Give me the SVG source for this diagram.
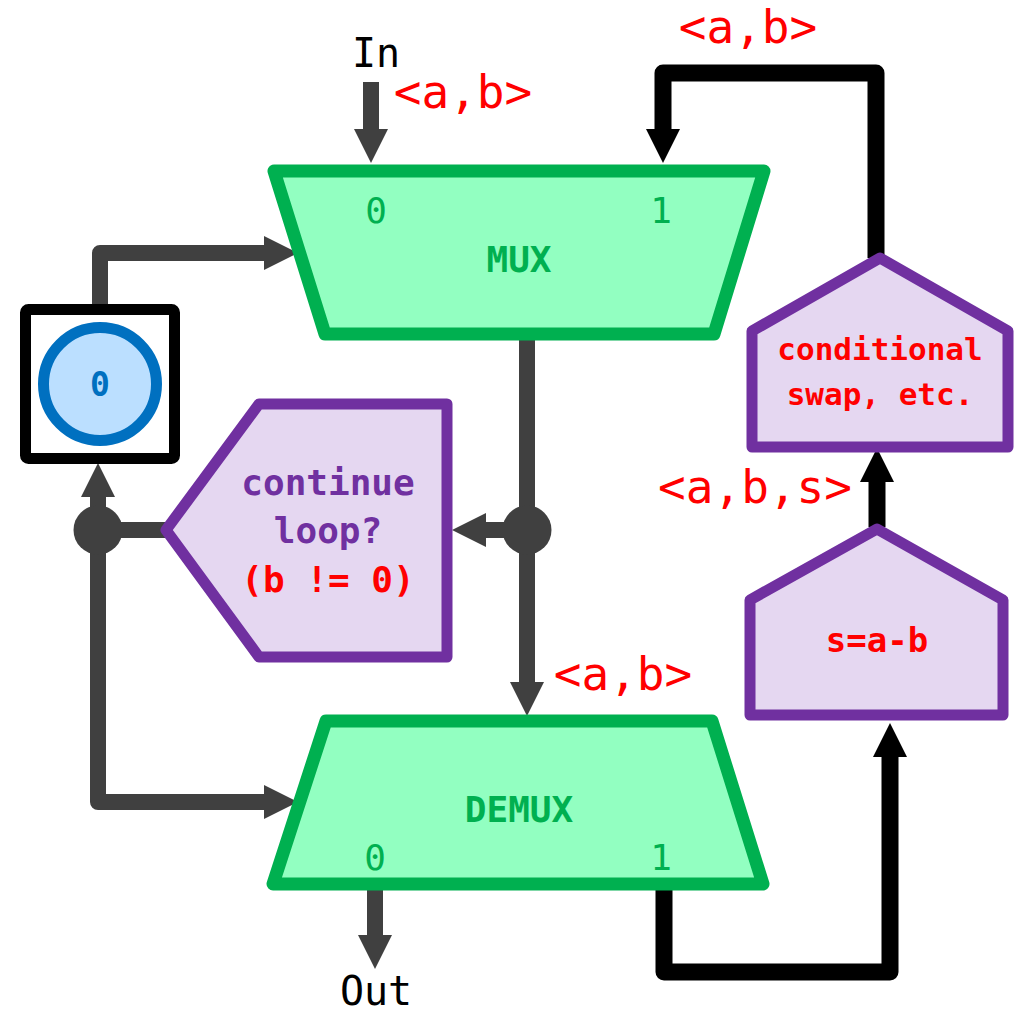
<svg xmlns="http://www.w3.org/2000/svg" width="1018" height="1013" viewBox="0 0 1018 1013">
  <style>
    text { font-family: "DejaVu Sans Mono", "Liberation Mono", monospace; text-anchor: middle; }
    .mux { fill: #92FFC1; stroke: #00B050; stroke-width: 13; stroke-linejoin: round; }
    .proc { fill: #E5D7F1; stroke: #7030A0; stroke-width: 11; stroke-linejoin: round; }
    .title { fill: #00B050; font-size: 36px; font-weight: bold; }
    .port { fill: #00B050; font-size: 36px; }
    .tuple { fill: #FF0000; font-size: 46px; }
    .io { fill: #000000; font-size: 40px; }
    .gray { fill: none; stroke: #404040; stroke-width: 16; stroke-linejoin: round; }
    .black { fill: none; stroke: #000000; stroke-width: 17; stroke-linejoin: round; }
    .ga { marker-end: url(#headGray); }
    .ba { marker-end: url(#headBlack); }
  </style>
  <defs>
    <marker id="headGray" markerUnits="userSpaceOnUse" viewBox="0 -20 40 40" refX="0" refY="0" markerWidth="40" markerHeight="40" orient="auto">
      <path d="M0,-17 L34,0 L0,17 Z" fill="#404040"/>
    </marker>
    <marker id="headBlack" markerUnits="userSpaceOnUse" viewBox="0 -20 40 40" refX="0" refY="0" markerWidth="40" markerHeight="40" orient="auto">
      <path d="M0,-17 L34,0 L0,17 Z" fill="#000000"/>
    </marker>
  </defs>

  <!-- connectors -->
  <g id="connectors">
    <path class="gray ga" d="M371,82 V129"/>
    <path class="gray ga" d="M100,305 V253 H264"/>
    <path class="gray ga" d="M527,340 V682"/>
    <path class="gray ga" d="M527,530 H486"/>
    <path class="gray" d="M166,530 H98"/>
    <path class="gray ga" d="M98,530 V497"/>
    <path class="gray ga" d="M98,530 V802 H264"/>
    <path class="gray ga" d="M375,890 V935"/>
    <circle cx="527" cy="530" r="24.5" fill="#404040"/>
    <circle cx="98" cy="530" r="24.5" fill="#404040"/>
    <path class="black ba" d="M664,890 V972 H890 V757"/>
    <path class="black ba" d="M877,527 V482"/>
    <path class="black ba" d="M876,258 V73 H663 V129"/>
  </g>

  <!-- edge labels -->
  <g id="labels">
    <text class="io" x="376" y="67">In</text>
    <text class="io" x="376" y="1005">Out</text>
    <text class="tuple" x="463" y="108">&lt;a,b&gt;</text>
    <text class="tuple" x="748" y="43">&lt;a,b&gt;</text>
    <text class="tuple" x="623" y="690">&lt;a,b&gt;</text>
    <text class="tuple" x="755" y="503">&lt;a,b,s&gt;</text>
  </g>

  <!-- multiplexer -->
  <g id="mux">
    <polygon class="mux" points="274,171 764,171 714,334 325,334"/>
    <text class="port" x="376" y="223">0</text>
    <text class="port" x="661" y="223">1</text>
    <text class="title" x="519" y="272">MUX</text>
  </g>

  <!-- demultiplexer -->
  <g id="demux">
    <polygon class="mux" points="326,721 712,721 763,884 273,884"/>
    <text class="title" x="519" y="822">DEMUX</text>
    <text class="port" x="375" y="870">0</text>
    <text class="port" x="661" y="870">1</text>
  </g>

  <!-- initial-value register -->
  <g id="register">
    <rect x="25.5" y="309.5" width="149" height="149" rx="3" fill="#FFFFFF" stroke="#000000" stroke-width="11"/>
    <circle cx="100" cy="384" r="56.5" fill="#BBDFFF" stroke="#0070C0" stroke-width="11"/>
    <text x="100" y="396" fill="#0070C0" font-size="33" font-weight="bold">0</text>
  </g>

  <!-- loop condition -->
  <g id="condition">
    <polygon class="proc" points="166,530 259,404 447,404 447,657 259,657"/>
    <text x="328" y="495" fill="#7030A0" font-size="36" font-weight="bold">continue</text>
    <text x="328" y="543" fill="#7030A0" font-size="36" font-weight="bold">loop?</text>
    <text x="328" y="592" fill="#FF0000" font-size="36" font-weight="bold">(b != 0)</text>
  </g>

  <!-- subtraction step -->
  <g id="subtract">
    <polygon class="proc" points="877,529 1003,600 1003,715 750,715 750,600"/>
    <text x="877" y="652" fill="#FF0000" font-size="34" font-weight="bold">s=a-b</text>
  </g>

  <!-- swap step -->
  <g id="swap">
    <polygon class="proc" points="880,258 1008,331 1008,447 752,447 752,331"/>
    <text x="880" y="360" fill="#FF0000" font-size="31" font-weight="bold">conditional</text>
    <text x="880" y="405" fill="#FF0000" font-size="31" font-weight="bold">swap, etc.</text>
  </g>
</svg>
